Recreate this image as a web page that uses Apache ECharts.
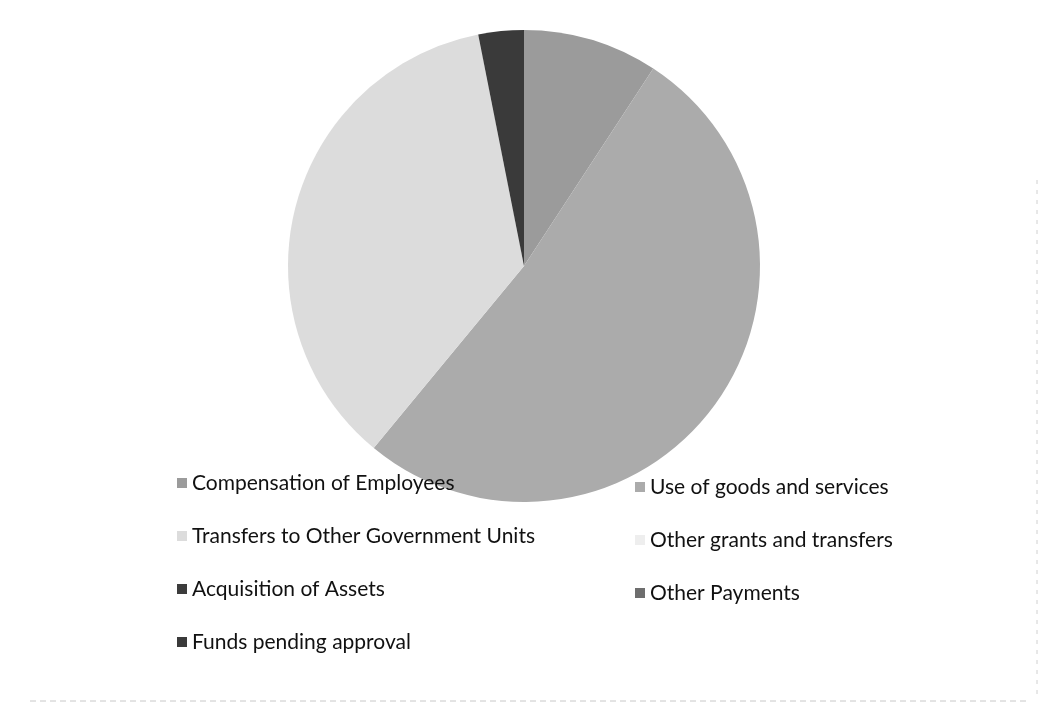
<!DOCTYPE html>
<html>
<head>
<meta charset="utf-8">
<script src="https://cdn.jsdelivr.net/npm/echarts@6/dist/echarts.min.js"></script>
<style>html,body{margin:0;padding:0;background:#fff}#c{width:1042px;height:707px}</style>
</head>
<body>
<div id="c"></div>
<script>
const categories = [
  'Compensation of Employees',
  'Use of goods and services',
  'Transfers to Other Government Units',
  'Other grants and transfers',
  'Acquisition of Assets',
  'Other Payments',
  'Funds pending approval'
];
const values = [9.2, 51.6, 35.8, 0, 0, 0, 3.1];
const colors = ['#9b9b9b', '#ababab', '#dcdcdc', '#eeeeee', '#3c3c3c', '#6e6e6e', '#3a3a3a'];
const leftLegend = [categories[0], categories[2], categories[4], categories[6]];
const rightLegend = [categories[1], categories[3], categories[5]];

const chart = echarts.init(document.getElementById('c'), null, {renderer: 'canvas'});
const legendCommon = {
  orient: 'vertical',
  icon: 'rect',
  itemWidth: 10,
  itemHeight: 10,
  itemGap: 31,
  selectedMode: false,
  textStyle: {fontFamily: 'Lato', fontSize: 21, color: '#111111', lineHeight: 22}
};
chart.setOption({
  animation: false,
  backgroundColor: '#ffffff',
  color: colors,
  legend: [
    Object.assign({}, legendCommon, {data: leftLegend, left: 172, top: 467}),
    Object.assign({}, legendCommon, {data: rightLegend, left: 630, top: 471})
  ],
  graphic: [
    {type: 'line', shape: {x1: 30, y1: 701, x2: 1030, y2: 701}, style: {stroke: '#c8c8c8', lineWidth: 1, lineDash: [6, 4]}},
    {type: 'line', shape: {x1: 1037, y1: 180, x2: 1037, y2: 700}, style: {stroke: '#d0d0d0', lineWidth: 1, lineDash: [4, 6]}}
  ],
  series: [{
    type: 'pie',
    center: [524, 266],
    radius: 236,
    startAngle: 90,
    clockwise: true,
    label: {show: false},
    labelLine: {show: false},
    emphasis: {disabled: true},
    itemStyle: {borderWidth: 0},
    data: categories.map((n, i) => ({name: n, value: values[i]}))
  }]
});
</script>
</body>
</html>
